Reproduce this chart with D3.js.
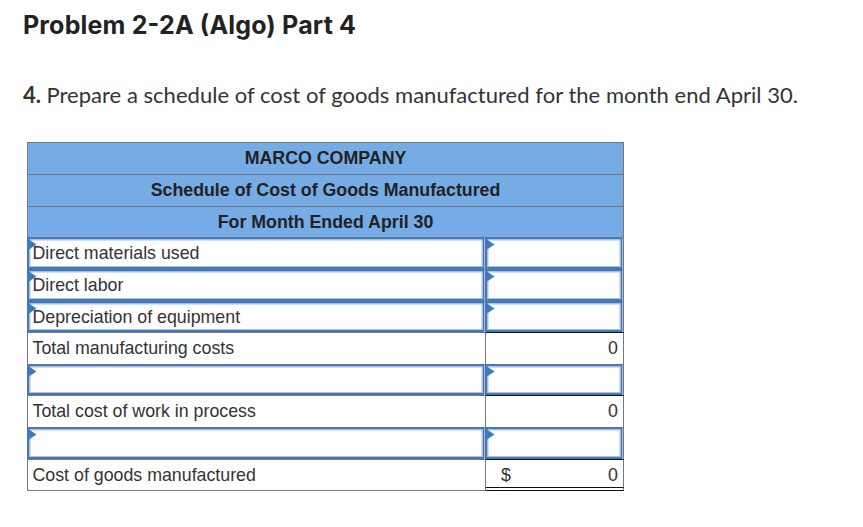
<!DOCTYPE html>
<html>
<head>
<meta charset="utf-8">
<script src="https://cdnjs.cloudflare.com/ajax/libs/d3/7.8.5/d3.min.js"></script>
<style>
html, body { margin: 0; padding: 0; background: #fff; }
svg { display: block; }
</style>
</head>
<body>
<div id="chart"></div>
<script>
var title = "Problem 2-2A (Algo) Part 4";
var questionNumber = "4.";
var question = "Prepare a schedule of cost of goods manufactured for the month end April 30.";

var headerRows = ["MARCO COMPANY", "Schedule of Cost of Goods Manufactured", "For Month Ended April 30"];
var rowLabels = ["Direct materials used", "Direct labor", "Depreciation of equipment", "Total manufacturing costs", "", "Total cost of work in process", "", "Cost of goods manufactured"];
var rowValues = ["", "", "", "0", "", "0", "", "0"];
var labelInput = [true, true, true, false, true, false, true, false];
var valueInput = [true, true, true, false, true, false, true, false];

var svg = d3.select("#chart").append("svg")
    .attr("width", 863)
    .attr("height", 527);

// heading text
svg.append("text")
    .attr("x", 23).attr("y", 34)
    .attr("font-family", "Inter").attr("font-weight", 700)
    .attr("font-size", 25).attr("fill", "#222")
    .attr("textLength", 333)
    .text(title);

var q = svg.append("text")
    .attr("x", 23).attr("y", 103)
    .attr("font-family", "Lato").attr("font-size", 22).attr("fill", "#333")
    .attr("textLength", 775);
q.append("tspan").attr("font-weight", 700).text(questionNumber + " ");
q.append("tspan").text(question);

// table grid
var allRows = d3.range(headerRows.length + rowLabels.length);
var y = d3.scaleBand().domain(allRows).range([142.5, 490.5]);
var x = d3.scaleLinear().domain([0, 1]).range([27.5, 623.5]);
var split = 485.5;
var tableFont = 17.8;
var baseline = 21;

// snap a row edge to the pixel grid so the rules stay thin
function rowTop(i) {
    return Math.floor(y(i) + 0.4) + 0.5;
}
function rowHeight(i) {
    var next = i + 1 < allRows.length ? rowTop(i + 1) : 490.5;
    return next - rowTop(i);
}

// header rows
var head = svg.selectAll("g.head")
    .data(headerRows)
    .enter().append("g").attr("class", "head");

head.append("rect")
    .attr("x", x(0))
    .attr("y", function(d, i) { return rowTop(i); })
    .attr("width", x(1) - x(0))
    .attr("height", function(d, i) { return rowHeight(i); })
    .attr("fill", "#75ace6")
    .attr("stroke", "#777");

head.append("text")
    .attr("x", 325.5)
    .attr("y", function(d, i) { return rowTop(i) + baseline; })
    .attr("text-anchor", "middle")
    .attr("font-family", "Liberation Sans").attr("font-weight", 700)
    .attr("font-size", tableFont).attr("fill", "#222")
    .text(function(d) { return d; });

// Function to draw one input box with its corner flag
function inputBox(x0, x1, top, h) {
    svg.append("rect")
        .attr("x", x0 + 1).attr("y", top + 1)
        .attr("width", x1 - x0 - 2).attr("height", h - 2.5)
        .attr("fill", "#fff").attr("stroke", "#3f78bd").attr("stroke-width", 2);
    svg.append("rect")
        .attr("x", x0 + 2.5).attr("y", top + 2.5)
        .attr("width", x1 - x0 - 5).attr("height", h - 5.5)
        .attr("fill", "none").attr("stroke", "#a9c3e6").attr("stroke-width", 1);
    svg.append("path")
        .attr("d", d3.line()([[x0, top + 1], [x0 + 9, top + 7], [x0, top + 13]]) + "Z")
        .attr("fill", "#3f78bd");
}

// body rows
rowLabels.forEach(function(label, i) {
    var row = i + headerRows.length;
    var top = rowTop(row);
    var h = rowHeight(row);

    svg.append("rect")
        .attr("x", x(0)).attr("y", top)
        .attr("width", split - x(0)).attr("height", h)
        .attr("fill", "#fff").attr("stroke", "#777");
    svg.append("rect")
        .attr("x", split).attr("y", top)
        .attr("width", x(1) - split).attr("height", h)
        .attr("fill", "#fff").attr("stroke", "#777");

    if (labelInput[i]) inputBox(x(0), split - 1, top, h);
    if (valueInput[i]) inputBox(split, x(1) - 1, top, h);

    svg.append("text")
        .attr("x", 32.5).attr("y", top + baseline)
        .attr("font-family", "Liberation Sans").attr("font-size", tableFont).attr("fill", "#333")
        .text(label);

    svg.append("text")
        .attr("x", 618).attr("y", top + baseline)
        .attr("text-anchor", "end")
        .attr("font-family", "Liberation Sans").attr("font-size", tableFont).attr("fill", "#333")
        .text(rowValues[i]);

    // total rows get a black rule on top of the amount cell
    if (!valueInput[i]) {
        svg.append("line")
            .attr("x1", split + 0.5).attr("x2", x(1))
            .attr("y1", top).attr("y2", top)
            .attr("stroke", "#111");
    }
});

// dollar sign and double rule on the last row
var lastRow = allRows.length - 1;
svg.append("text")
    .attr("x", 501).attr("y", rowTop(lastRow) + baseline)
    .attr("font-family", "Liberation Sans").attr("font-size", tableFont).attr("fill", "#333")
    .text("$");

[28, 31].forEach(function(dy) {
    svg.append("line")
        .attr("x1", split + 0.5).attr("x2", x(1))
        .attr("y1", rowTop(lastRow) + dy).attr("y2", rowTop(lastRow) + dy)
        .attr("stroke", "#111");
});
</script>
</body>
</html>
